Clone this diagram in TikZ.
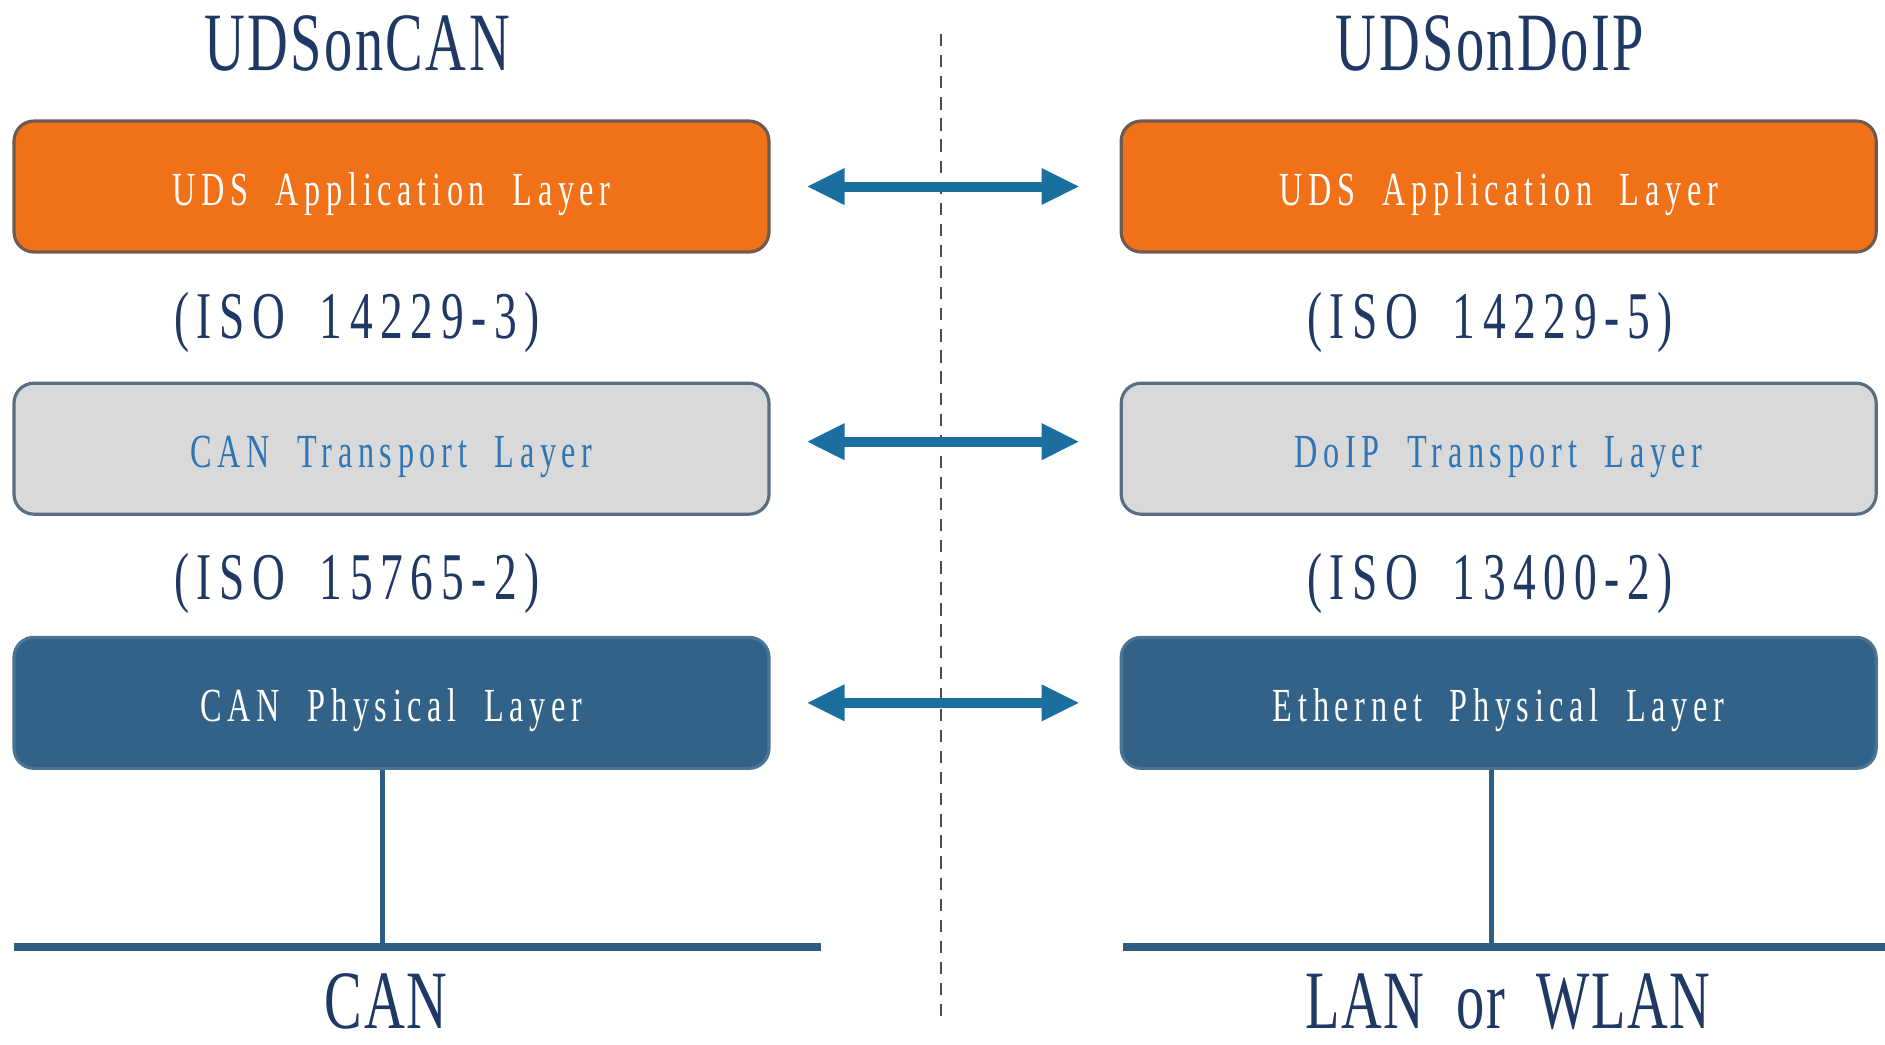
\documentclass[tikz,border=0pt]{standalone}
\usepackage{fontspec}
\setmainfont{Liberation Serif}[FakeStretch=0.68]
\newfontfamily\boxfont{Liberation Serif}[FakeStretch=0.68,LetterSpace=12,WordSpace=2]
\newfontfamily\isofont{Liberation Serif}[FakeStretch=0.68,LetterSpace=11.5,WordSpace=1.8]
\newfontfamily\busfont{Liberation Serif}[FakeStretch=0.68,LetterSpace=2,WordSpace=2]
\newfontfamily\titlefont{Liberation Serif}[FakeStretch=0.68,LetterSpace=3]
\usetikzlibrary{positioning, arrows.meta}
\definecolor{appfill}{HTML}{F07117}
\definecolor{appedge}{HTML}{6E5A50}
\definecolor{tpfill}{HTML}{D9D9D9}
\definecolor{tpedge}{HTML}{5B6D80}
\definecolor{tptext}{HTML}{2E75B6}
\definecolor{phyfill}{HTML}{326287}
\definecolor{phyedge}{HTML}{4A7494}
\definecolor{navy}{HTML}{1F3864}
\definecolor{linkblue}{HTML}{1B6F9E}
\definecolor{busblue}{HTML}{2F5D82}

\begin{document}
\begin{tikzpicture}[
    layer/.style={draw, rounded corners=0.2cm, line width=0.9pt, minimum width=7.55cm, minimum height=1.31cm, text height=0.37cm, text depth=0pt, font=\boxfont\fontsize{13.5}{15}\selectfont},
    app/.style={layer, fill=appfill, draw=appedge, text=white},
    transport/.style={layer, fill=tpfill, draw=tpedge, text=tptext},
    phys/.style={layer, fill=phyfill, draw=phyedge, text=white},
    title/.style={anchor=base, text=navy, font=\titlefont\fontsize{23.6}{27}\selectfont},
    iso/.style={anchor=base, text=navy, font=\isofont\fontsize{19}{22}\selectfont},
    medium/.style={anchor=base, inner sep=0pt, text=navy, font=\busfont\fontsize{23.6}{27}\selectfont},
    link/.style={{Triangle[length=0.38cm,width=0.34cm]}-{Triangle[length=0.38cm,width=0.34cm]}, line width=0.1cm, draw=linkblue, shorten <=0.36cm, shorten >=0.4cm},
    sep/.style={dashed, dash pattern=on 3.5pt off 2.5pt, line width=0.8pt, draw=black!70},
    bus/.style={line width=0.08cm, draw=busblue},
    stem/.style={line width=0.05cm, draw=busblue}
]
\useasboundingbox (0,0) rectangle (18.85,-10.44);

\node[title] (cantitle) at (3.57,-0.70) {UDSonCAN};
\node[title] (doiptitle) at (14.90,-0.70) {UDSonDoIP};

\node[app] (canapp) at (3.915,-1.865) {UDS Application Layer};
\node[app, right=3.49cm of canapp] (doipapp) {UDS Application Layer};
\node[transport, below=1.28cm of canapp] (cantp) {CAN Transport Layer};
\node[transport, right=3.49cm of cantp] (doiptp) {DoIP Transport Layer};
\node[phys, below=1.20cm of cantp] (canphy) {CAN Physical Layer};
\node[phys, right=3.49cm of canphy] (doipphy) {Ethernet Physical Layer};

\node[iso] (caniso1) at (3.57,-3.38) {(ISO 14229-3)};
\node[iso] (doipiso1) at (14.90,-3.38) {(ISO 14229-5)};
\node[iso] (caniso2) at (3.57,-5.99) {(ISO 15765-2)};
\node[iso] (doipiso2) at (14.90,-5.99) {(ISO 13400-2)};

\node[medium] (canmedium) at (3.86,-10.28) {CAN};
\node[medium] (doipmedium) at (15.08,-10.28) {LAN or WLAN};

\coordinate (sepTop) at (9.41,-0.34);
\coordinate (sepBot) at (9.41,-10.22);
\coordinate (canbusL) at (0.14,-9.47);
\coordinate (canbusR) at (8.21,-9.47);
\coordinate (canjoin) at (3.82,-9.47);
\coordinate (doipbusL) at (11.23,-9.47);
\coordinate (doipbusR) at (18.85,-9.47);
\coordinate (doipjoin) at (14.91,-9.47);

\draw[sep] (sepTop) -- (sepBot);

\draw[link] (canapp) -- (doipapp);
\draw[link] ([yshift=0.07cm]cantp.east) -- ([yshift=0.07cm]doiptp.west);
\draw[link] (canphy) -- (doipphy);

\draw[stem] (canphy.south -| canjoin) -- (canjoin);
\draw[stem] (doipphy.south -| doipjoin) -- (doipjoin);
\draw[bus] (canbusL) -- (canbusR);
\draw[bus] (doipbusL) -- (doipbusR);

\end{tikzpicture}
\end{document}
